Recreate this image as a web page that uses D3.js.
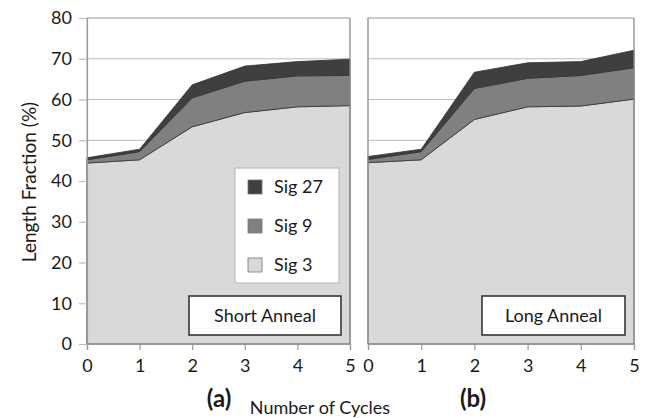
<!DOCTYPE html>
<html>
<head>
<meta charset="utf-8">
<script src="https://cdn.jsdelivr.net/npm/d3@7"></script>
<style>
  body { margin: 0; background: #fff; }
  text { font-family: Lato, "Open Sans", sans-serif; fill: #1a1a1a; }
</style>
</head>
<body>
<svg id="chart" width="649" height="418"></svg>
<script>
// Cycle numbers on the x axis
const cycles = [0, 1, 2, 3, 4, 5];
const seriesNames = ["Sig 3", "Sig 9", "Sig 27"];
const yTicks = [0, 10, 20, 30, 40, 50, 60, 70, 80];

// Short anneal: length fraction (%) per significance level (stacked)
const shortSig3  = [44.4, 45.2, 53.3, 56.8, 58.2, 58.5];
const shortSig9  = [0.8, 2.0, 7.1, 7.7, 7.6, 7.4];
const shortSig27 = [0.5, 0.6, 3.2, 3.7, 3.5, 4.0];

// Long anneal
const longSig3  = [44.5, 45.2, 55.1, 58.2, 58.4, 60.1];
const longSig9  = [0.8, 2.0, 7.6, 7.0, 7.5, 7.7];
const longSig27 = [0.7, 0.6, 4.0, 3.8, 3.4, 4.3];

const panelTitles = ["Short Anneal", "Long Anneal"];
const panelTags = ["(a)", "(b)"];

const fills = { "Sig 3": "#d9d9d9", "Sig 9": "#808080", "Sig 27": "#3f3f3f" };
const FONT = 18;

const svg = d3.select("#chart");

const y = d3.scaleLinear().domain([0, 80]).range([344, 18]);

const panels = [
  { x0: 87, x1: 350, s3: shortSig3, s9: shortSig9, s27: shortSig27, title: panelTitles[0], tag: panelTags[0], yAxis: true },
  { x0: 368, x1: 634, s3: longSig3, s9: longSig9, s27: longSig27, title: panelTitles[1], tag: panelTags[1], yAxis: false }
];

const stack = d3.stack().keys(seriesNames);

panels.forEach(p => {
  const x = d3.scaleLinear().domain([0, 5]).range([p.x0, p.x1]);
  const g = svg.append("g");

  // plot frame
  g.append("rect")
    .attr("x", p.x0).attr("y", y(80))
    .attr("width", p.x1 - p.x0).attr("height", y(0) - y(80))
    .attr("fill", "#fff").attr("stroke", "#bdbdbd").attr("stroke-width", 1.2);

  // horizontal gridlines
  g.selectAll("line.grid").data(yTicks.filter(t => t > 0)).join("line")
    .attr("class", "grid")
    .attr("x1", p.x0).attr("x2", p.x1)
    .attr("y1", d => y(d)).attr("y2", d => y(d))
    .attr("stroke", "#bdbdbd").attr("stroke-width", 1.2);

  // stacked areas
  const rows = cycles.map((c, i) => ({ cycle: c, "Sig 3": p.s3[i], "Sig 9": p.s9[i], "Sig 27": p.s27[i] }));
  const layers = stack(rows);
  const area = d3.area()
    .x(d => x(d.data.cycle))
    .y0(d => y(d[0]))
    .y1(d => y(d[1]));
  g.selectAll("path.layer").data(layers).join("path")
    .attr("class", "layer")
    .attr("d", area)
    .attr("fill", d => fills[d.key])
    .attr("stroke", "#333")
    .attr("stroke-width", 0.8)
    .attr("stroke-linejoin", "round");

  // right border drawn over the areas
  g.append("line")
    .attr("x1", p.x1).attr("x2", p.x1).attr("y1", y(80)).attr("y2", y(0))
    .attr("stroke", "#9a9a9a").attr("stroke-width", 1.2);

  // x axis
  const xAxis = g.append("g").attr("transform", `translate(0,${y(0)})`)
    .call(d3.axisBottom(x).tickValues(cycles).tickSize(6).tickPadding(9).tickFormat(d3.format("d")));
  xAxis.select(".domain").attr("stroke", "#9a9a9a").attr("stroke-width", 1.2);
  xAxis.selectAll(".tick line").attr("stroke", "#9a9a9a").attr("stroke-width", 1.2);
  xAxis.selectAll(".tick text").attr("font-size", FONT).attr("font-family", "Lato, sans-serif").attr("fill", "#1a1a1a");

  // y axis (left panel only)
  if (p.yAxis) {
    const yAxis = g.append("g").attr("transform", `translate(${p.x0},0)`)
      .call(d3.axisLeft(y).tickValues(yTicks).tickSize(8).tickPadding(7));
    yAxis.select(".domain").attr("stroke", "#9a9a9a").attr("stroke-width", 1.2);
    yAxis.selectAll(".tick line").attr("stroke", "#bdbdbd").attr("stroke-width", 1.2);
    yAxis.selectAll(".tick text").attr("font-size", FONT).attr("font-family", "Lato, sans-serif").attr("fill", "#1a1a1a");
  } else {
    g.append("line")
      .attr("x1", p.x0).attr("x2", p.x0).attr("y1", y(80)).attr("y2", y(0))
      .attr("stroke", "#9a9a9a").attr("stroke-width", 1.2);
  }

  // annealing label box
  const bw = p.yAxis ? 152 : 143;
  const bx = p.x1 - 9 - bw;
  g.append("rect")
    .attr("x", bx).attr("y", 296).attr("width", bw).attr("height", 39)
    .attr("fill", "#fff").attr("stroke", "#2a2a2a").attr("stroke-width", 1.5);
  g.append("text")
    .attr("x", bx + bw / 2).attr("y", 322)
    .attr("text-anchor", "middle").attr("font-size", FONT)
    .text(p.title);

  // panel tag
  g.append("text")
    .attr("x", p.yAxis ? 219 : 473).attr("y", 407)
    .attr("text-anchor", "middle").attr("font-size", 24).attr("font-weight", "bold")
    .text(p.tag);
});

// legend in the left panel
const legend = svg.append("g");
legend.append("rect")
  .attr("x", 235).attr("y", 168).attr("width", 104).attr("height", 115)
  .attr("fill", "#fff").attr("stroke", "#bdbdbd").attr("stroke-width", 1.2);
const legendOrder = ["Sig 27", "Sig 9", "Sig 3"];
legendOrder.forEach((k, i) => {
  const cy = 187 + i * 39;
  legend.append("rect")
    .attr("x", 248).attr("y", cy - 7).attr("width", 14).attr("height", 14)
    .attr("fill", fills[k]).attr("stroke", "#777").attr("stroke-width", 0.8);
  legend.append("text")
    .attr("x", 274).attr("y", cy + 6)
    .attr("font-size", FONT)
    .text(k);
});

// axis titles
svg.append("text")
  .attr("transform", "translate(36,182) rotate(-90)")
  .attr("text-anchor", "middle").attr("font-size", 19)
  .text("Length Fraction (%)");
svg.append("text")
  .attr("x", 320).attr("y", 414)
  .attr("text-anchor", "middle").attr("font-size", 18)
  .text("Number of Cycles");
</script>
</body>
</html>
